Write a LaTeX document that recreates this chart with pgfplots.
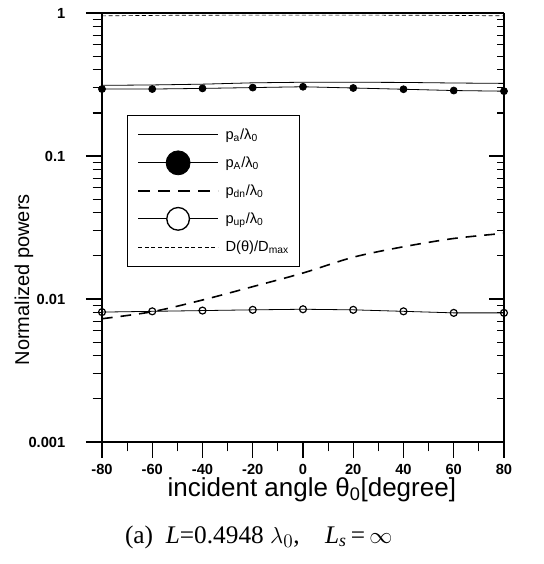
\documentclass[border=0pt]{standalone}
\usepackage{fontspec}
\setmainfont{Liberation Sans}
\newfontfamily\timesfont{Liberation Serif}
\usepackage{pgfplots}
\usepackage{pgfplotstable}
\pgfplotsset{compat=1.18}

\pgfplotstableread{
x pa pA pdn pup D
-80 0.312 0.294 0.00728 0.0081 0.955
-60 0.314 0.294 0.00815 0.0082 0.962
-40 0.318 0.297 0.00984 0.0083 0.965
-20 0.325 0.301 0.0122 0.0084 0.967
0 0.328 0.305 0.0152 0.00848 0.967
20 0.328 0.299 0.0196 0.0084 0.967
40 0.327 0.293 0.0232 0.0082 0.965
60 0.324 0.287 0.0265 0.0080 0.962
80 0.322 0.284 0.0288 0.0080 0.955
}\data

\def\myminor{0.002,0.003,0.004,0.005,0.006,0.007,0.008,0.009,0.02,0.03,0.04,0.05,0.06,0.07,0.08,0.09,0.2,0.3,0.4,0.5,0.6,0.7,0.8,0.9}

\begin{document}
\begin{tikzpicture}
\path[use as bounding box] (-76.5pt,-91.5pt) rectangle (330.75pt,331.5pt);
\begin{axis}[
  scale only axis, width=301.5pt, height=321.75pt,
  ymode=log, xmin=-80, xmax=80, ymin=0.001, ymax=1,
  axis x line*=bottom, axis y line*=left,
  xtick={-80,-60,...,80},
  xticklabels={-80,-60,-40,-20,0,20,40,60,80},
  minor xtick={-70,-50,...,70},
  ytick={0.001,0.01,0.1,1},
  yticklabels={0.001,0.01,0.1,1},
  minor ytick/.expanded={\myminor},
  tick align=outside,
  major tick length=12pt, minor tick length=7pt,
  axis line style={line width=1pt, -},
  every tick/.style={black, line width=0.8pt},
  ticklabel style={font=\bfseries\fontsize{11}{13}\selectfont},
  yticklabel style={xshift=-12pt},
  xticklabel style={yshift=-1pt},
  /pgf/number format/assume math mode=true,
  xlabel={incident angle θ\textsubscript{0}[degree]},
  xlabel style={font=\fontsize{19.5}{21}\selectfont, at={(axis description cs:0.522,-0.112)}, anchor=center},
  ylabel={Normalized powers},
  ylabel style={font=\fontsize{15}{17}\selectfont, at={(axis description cs:-0.194,0.378)}, anchor=center},
  legend style={at={(0.062,0.762)}, anchor=north west, draw=black, line width=0.6pt,
    font=\fontsize{11}{12}\selectfont, inner xsep=7.5pt, inner ysep=4pt,
    nodes={inner xsep=5pt, inner ysep=0pt, minimum height=21pt, text width=43pt, align=left}},
  legend cell align=left,
  clip=false,
]
\addplot[black, line width=0.6pt,
  legend image code/.code={\draw[black,line width=0.6pt] (0pt,0pt) -- (60pt,0pt);}]
  table[x=x,y=pa]{\data};
\addlegendentry{p\textsubscript{a}/λ\textsubscript{0}}
\addplot[black, line width=0.6pt, mark=*, mark size=2.6pt, mark options={solid, fill=black},
  legend image code/.code={\draw[black,line width=0.6pt] (0pt,0pt) -- (60pt,0pt); \fill[black] (30pt,0pt) circle (9pt);}]
  table[x=x,y=pA]{\data};
\addlegendentry{p\textsubscript{A}/λ\textsubscript{0}}
\addplot[black, line width=1.2pt, smooth, dash pattern=on 8pt off 6pt,
  legend image code/.code={\draw[black,line width=1.2pt,dash pattern=on 9pt off 6pt] (0pt,0pt) -- (60pt,0pt);}]
  table[x=x,y=pdn]{\data};
\addlegendentry{p\textsubscript{dn}/λ\textsubscript{0}}
\addplot[black, line width=0.6pt, mark=o, mark size=2.6pt, mark options={solid, line width=0.9pt},
  legend image code/.code={\draw[black,line width=0.6pt] (0pt,0pt) -- (60pt,0pt); \draw[black, line width=1pt, fill=white] (30pt,0pt) circle (8.5pt);}]
  table[x=x,y=pup]{\data};
\addlegendentry{p\textsubscript{up}/λ\textsubscript{0}}
\addplot[black, line width=0.5pt, smooth, dash pattern=on 3pt off 2pt,
  legend image code/.code={\draw[black,line width=0.5pt,dash pattern=on 3pt off 2pt] (0pt,0pt) -- (60pt,0pt);}]
  table[x=x,y=D]{\data};
\addlegendentry{D(θ)/D\textsubscript{max}}
\node[font=\timesfont\fontsize{19}{21}\selectfont, anchor=center] at (axis description cs:0.39,-0.222)
  {(a)\ \ \textit{L}=0.4948 $\lambda_0$,\quad \textit{L}\textsubscript{\textit{s}}\,=\,$\infty$};
\end{axis}
\begin{axis}[
  scale only axis, width=301.5pt, height=321.75pt,
  ymode=log, xmin=-80, xmax=80, ymin=0.001, ymax=1,
  axis x line*=top, axis y line*=right,
  xtick=\empty, ytick={0.001,0.01,0.1,1}, yticklabels={},
  minor ytick/.expanded={\myminor},
  tick align=inside,
  major tick length=11pt, minor tick length=5pt,
  axis line style={line width=1pt, -},
  every tick/.style={black, line width=0.8pt},
]
\end{axis}
\end{tikzpicture}
\end{document}
